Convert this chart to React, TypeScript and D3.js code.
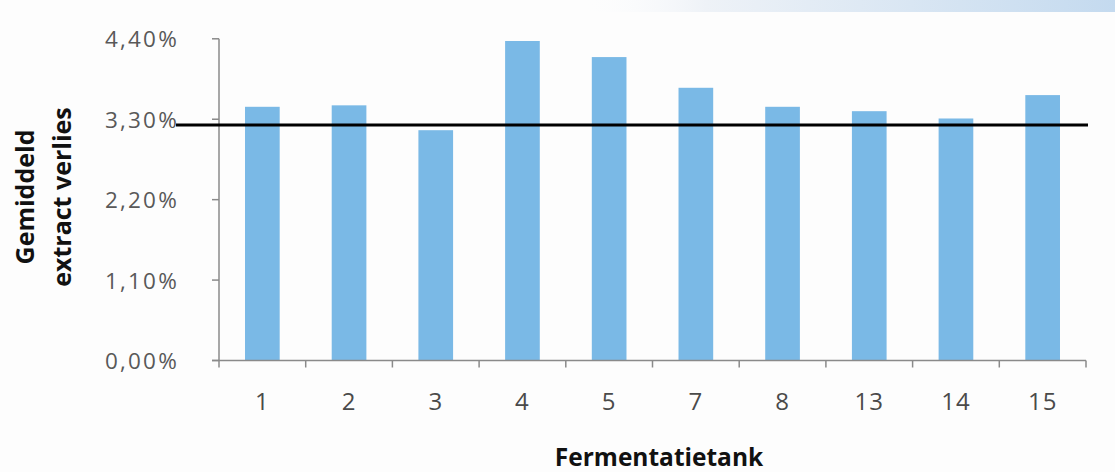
import React from "react";
import * as d3 from "d3";

// Fermentation tanks and their average extract loss (%)
const tanks: string[] = ["1", "2", "3", "4", "5", "7", "8", "13", "14", "15"];
const extractLoss: number[] = [3.47, 3.49, 3.15, 4.37, 4.15, 3.73, 3.47, 3.41, 3.31, 3.63];
// Reference level drawn across all tanks (%)
const referenceLevel: number = 3.22;
// Y-axis tick values (%)
const yTicks: number[] = [0, 1.1, 2.2, 3.3, 4.4];

const W = 1115;
const H = 472;
const LEFT = 219;
const RIGHT = 1086;
const BOTTOM = 360.5;
const TOP = 38.8;

const tickFont = "'Open Sans', 'Noto Sans', sans-serif";
const axisColor = "#8a8a8a";
const barColor = "#7ab9e6";

const fmtPct = (v: number) => v.toFixed(2).replace(".", ",") + "%";

export default function App() {
  const x = d3
    .scaleBand<string>()
    .domain(tanks)
    .range([LEFT, RIGHT])
    .paddingInner(0.6)
    .paddingOuter(0.3);
  const y = d3.scaleLinear().domain([0, 4.4]).range([BOTTOM, TOP]);

  const step = x.step();
  const boundaries = d3.range(tanks.length + 1).map((i) => LEFT + i * step);

  return (
    <svg
      width={W}
      height={H}
      style={{ position: "absolute", left: 0, top: 0, background: "#fdfdfd" }}
    >
      <defs>
        <linearGradient id="topBand" x1="0" x2="1" y1="0" y2="0">
          <stop offset="0" stopColor="#ffffff" stopOpacity="0" />
          <stop offset="0.25" stopColor="#eef2f7" />
          <stop offset="1" stopColor="#c4daef" />
        </linearGradient>
      </defs>
      <rect x={570} y={0} width={W - 570} height={12} fill="url(#topBand)" />

      {/* bars */}
      {tanks.map((t, i) => (
        <rect
          key={t}
          x={x(t)}
          y={y(extractLoss[i])}
          width={x.bandwidth()}
          height={BOTTOM - y(extractLoss[i])}
          fill={barColor}
        />
      ))}

      {/* y axis */}
      <line x1={LEFT} x2={LEFT} y1={y(4.4)} y2={BOTTOM} stroke={axisColor} strokeWidth={1.5} />
      {yTicks.map((v) => (
        <g key={v}>
          <line x1={LEFT - 7} x2={LEFT} y1={y(v)} y2={y(v)} stroke={axisColor} strokeWidth={1.5} />
          <text
            x={LEFT - 40}
            y={y(v)}
            textAnchor="end"
            dominantBaseline="central"
            fontFamily={tickFont}
            fontSize={22.5}
            letterSpacing={2.2}
            fill="#595959"
          >
            {fmtPct(v)}
          </text>
        </g>
      ))}

      {/* x axis */}
      <line x1={LEFT - 7} x2={RIGHT} y1={BOTTOM} y2={BOTTOM} stroke={axisColor} strokeWidth={1.5} />
      {boundaries.map((bx, i) => (
        <line key={i} x1={bx} x2={bx} y1={BOTTOM} y2={BOTTOM + 7} stroke={axisColor} strokeWidth={1.5} />
      ))}
      {tanks.map((t) => (
        <text
          key={t}
          x={(x(t) as number) + x.bandwidth() / 2}
          y={400}
          textAnchor="middle"
          dominantBaseline="central"
          fontFamily={tickFont}
          fontSize={24}
          letterSpacing={1}
          fill="#4a4a4a"
        >
          {t}
        </text>
      ))}

      {/* reference line */}
      <line
        x1={LEFT - 43}
        x2={RIGHT + 2}
        y1={y(referenceLevel)}
        y2={y(referenceLevel)}
        stroke="#000"
        strokeWidth={3}
      />

      {/* axis titles */}
      <text
        x={659}
        y={456}
        textAnchor="middle"
        dominantBaseline="central"
        fontFamily={tickFont}
        fontWeight={700}
        fontSize={24.5}
        fill="#111"
      >
        Fermentatietank
      </text>
      <g transform="translate(42,197) rotate(-90)">
        <text
          x={0}
          y={-18}
          textAnchor="middle"
          dominantBaseline="central"
          fontFamily={tickFont}
          fontWeight={700}
          fontSize={25}
          fill="#111"
        >
          Gemiddeld
        </text>
        <text
          x={0}
          y={19}
          textAnchor="middle"
          dominantBaseline="central"
          fontFamily={tickFont}
          fontWeight={700}
          fontSize={25}
          fill="#111"
        >
          extract verlies
        </text>
      </g>
    </svg>
  );
}
